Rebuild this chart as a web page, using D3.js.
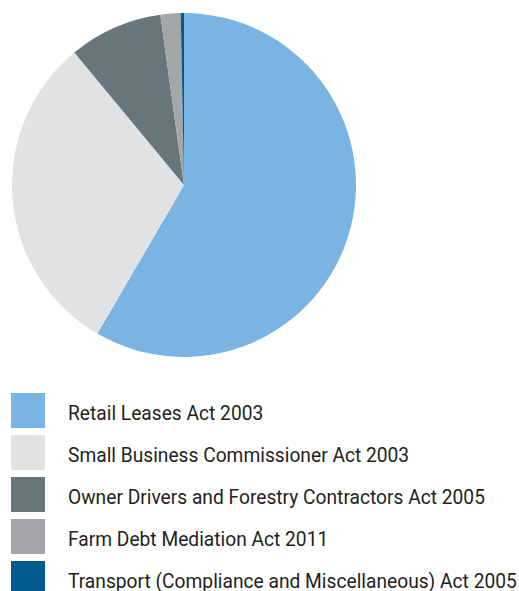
<!DOCTYPE html>
<html>
<head>
<meta charset="utf-8">
<script src="https://cdn.jsdelivr.net/npm/d3@7"></script>
<style>
  html, body { margin: 0; padding: 0; background: #fff; }
  svg { display: block; }
  .legend text { font-family: "Roboto", "Liberation Sans", sans-serif; font-weight: 400; font-size: 21px; fill: #231f20; }
</style>
</head>
<body>
<svg id="chart" width="519" height="591"></svg>
<script>
// Share of matters by legislation (per cent)
const categories = [
  "Retail Leases Act 2003",
  "Small Business Commissioner Act 2003",
  "Owner Drivers and Forestry Contractors Act 2005",
  "Farm Debt Mediation Act 2011",
  "Transport (Compliance and Miscellaneous) Act 2005"
];
const values = [58.4, 30.6, 8.8, 1.9, 0.3];
const colors = ["#7ab4e2", "#e1e2e4", "#67757d", "#a5a6a9", "#005a8c"];

const svg = d3.select("#chart");
const cx = 184, cy = 185, radius = 172;

const pie = d3.pie().sort(null).value(d => d.value);
const arc = d3.arc().innerRadius(0).outerRadius(radius);
const data = categories.map((c, i) => ({ name: c, value: values[i], color: colors[i] }));

svg.append("g")
  .attr("transform", `translate(${cx},${cy})`)
  .selectAll("path")
  .data(pie(data))
  .join("path")
  .attr("d", arc)
  .attr("fill", d => d.data.color);

// Legend
const legend = svg.append("g").attr("class", "legend");
const rowY = d3.scaleBand().domain(categories).range([393, 603]).paddingInner(0);
const item = legend.selectAll("g")
  .data(data)
  .join("g")
  .attr("transform", d => `translate(0,${rowY(d.name)})`);
item.append("rect")
  .attr("x", 11).attr("y", 0)
  .attr("width", 34).attr("height", 35)
  .attr("fill", d => d.color);
const labels = item.append("text")
  .attr("transform", "translate(68,27)")
  .text(d => d.name);

// Condense the labels so the longest one fits the available width
const maxWidth = 449;
const longest = d3.max(labels.nodes(), n => n.getComputedTextLength());
const sx = Math.min(1, maxWidth / longest);
labels.attr("transform", `translate(68,27) scale(${sx},1)`);
</script>
</body>
</html>
